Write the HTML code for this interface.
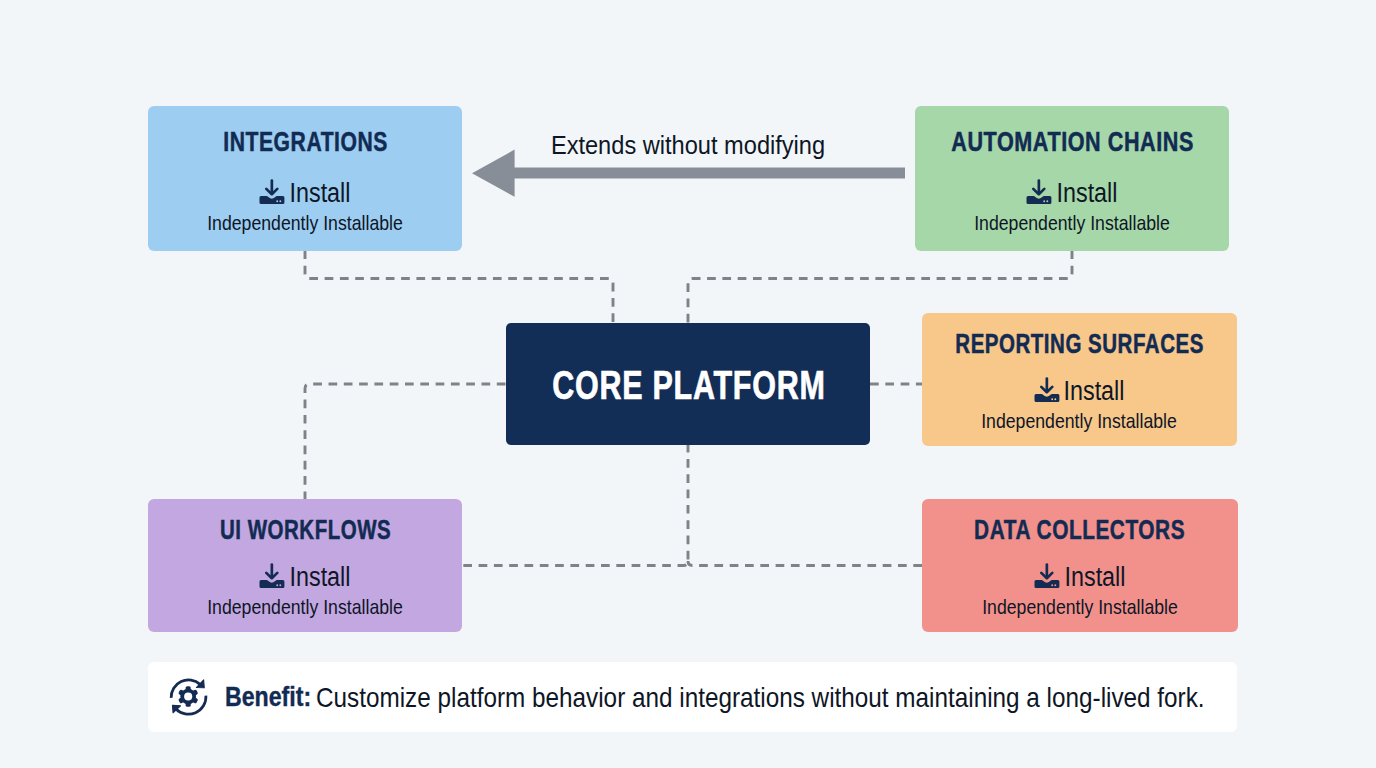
<!DOCTYPE html>
<html><head><meta charset="utf-8">
<style>
html,body{margin:0;padding:0;}
body{width:1376px;height:768px;overflow:hidden;background:#f2f6f9;position:relative;font-family:"Liberation Sans",sans-serif;}
.box{position:absolute;border-radius:6px;}
.t{position:absolute;width:800px;text-align:center;white-space:nowrap;line-height:1;transform-origin:50% 50%;}
svg{position:absolute;left:0;top:0;}
svg.ic{overflow:visible;}
</style></head>
<body>
<svg width="1376" height="768" viewBox="0 0 1376 768">
  <g fill="none" stroke="#7d838b" stroke-width="2.9" stroke-dasharray="8.7 6.6">
    <path d="M613 323 V283 Q613 278.5 608.5 278.5 H309.5 Q305 278.5 305 274 V251" stroke-dashoffset="-1"/>
    <path d="M688 323 V283 Q688 278.5 692.5 278.5 H1067.5 Q1072 278.5 1072 274 V251" stroke-dashoffset="-0.5"/>
    <path d="M506 384 H309.5 Q305 384 305 388.5 V499" stroke-dashoffset="-0.5"/>
    <path d="M870 384 H922"/>
    <path d="M688 445 V560" stroke-dashoffset="1.3"/>
    <path d="M462 565.5 H683.5 Q688 565.5 688 561" stroke-dashoffset="-1.3"/>
    <path d="M922 565.5 H692.5 Q688 565.5 688 561"/>
  </g>
  <path d="M905 167.4 H514.6 V149.6 L472 173.2 L514.6 196.8 V178.6 H905 Z" fill="#878e97"/>
</svg>
<div class="box" style="left:148px;top:106px;width:314px;height:145px;background:#9dcdf0"></div>
<div class="box" style="left:915px;top:106px;width:314px;height:145px;background:#a6d7a8"></div>
<div class="box" style="left:922px;top:313px;width:315px;height:133px;background:#f8c78a"></div>
<div class="box" style="left:148px;top:499px;width:314px;height:133px;background:#c3a7e1"></div>
<div class="box" style="left:922px;top:499px;width:316px;height:133px;background:#f2918b"></div>
<div class="box" style="left:506px;top:323px;width:364px;height:122px;background:#122d56;border-radius:5px"></div>
<div class="box" style="left:148px;top:662px;width:1089px;height:70px;background:#ffffff;border-radius:6px"></div>
<div class="t" style="left:-95.00px;top:129.04px;font-size:27px;font-weight:bold;color:#122b53;transform:scaleX(0.7822);-webkit-text-stroke:0.5px #122b53;letter-spacing:0.7px;padding-left:0.7px;">INTEGRATIONS</div>
<svg class="ic" style="left:254.80px;top:175.10px" width="35" height="33" viewBox="0 0 35 33">
<path d="M16.85 5.5 V17" stroke="#142c52" stroke-width="2.7" stroke-linecap="round" fill="none"/>
<path d="M11.3 13.9 L16.8 19.2 L22.3 13.9" stroke="#142c52" stroke-width="2.7" stroke-linecap="round" stroke-linejoin="round" fill="none"/>
<path d="M6 21 H11.6 C13.2 21 14.6 23.8 16.8 23.8 C19 23.8 20.4 21 22 21 H27.9 Q29.4 21 29.4 22.5 V27.4 Q29.4 28.9 27.9 28.9 H6 Q4.5 28.9 4.5 27.4 V22.5 Q4.5 21 6 21 Z" fill="#142c52"/>
<circle cx="22.2" cy="26.2" r="0.95" fill="#9dcdf0"/>
<circle cx="25.3" cy="26.2" r="0.95" fill="#9dcdf0"/>
</svg>
<div class="t" style="left:-79.75px;top:179.71px;font-size:26.8px;font-weight:normal;color:#0e1626;transform:scaleX(0.871);">Install</div>
<div class="t" style="left:-94.75px;top:211.62px;font-size:21px;font-weight:normal;color:#0e1626;transform:scaleX(0.842);">Independently Installable</div>
<div class="t" style="left:672.00px;top:129.04px;font-size:27px;font-weight:bold;color:#122b53;transform:scaleX(0.7998);-webkit-text-stroke:0.5px #122b53;letter-spacing:0.7px;padding-left:0.7px;">AUTOMATION CHAINS</div>
<svg class="ic" style="left:1021.80px;top:175.10px" width="35" height="33" viewBox="0 0 35 33">
<path d="M16.85 5.5 V17" stroke="#142c52" stroke-width="2.7" stroke-linecap="round" fill="none"/>
<path d="M11.3 13.9 L16.8 19.2 L22.3 13.9" stroke="#142c52" stroke-width="2.7" stroke-linecap="round" stroke-linejoin="round" fill="none"/>
<path d="M6 21 H11.6 C13.2 21 14.6 23.8 16.8 23.8 C19 23.8 20.4 21 22 21 H27.9 Q29.4 21 29.4 22.5 V27.4 Q29.4 28.9 27.9 28.9 H6 Q4.5 28.9 4.5 27.4 V22.5 Q4.5 21 6 21 Z" fill="#142c52"/>
<circle cx="22.2" cy="26.2" r="0.95" fill="#a6d7a8"/>
<circle cx="25.3" cy="26.2" r="0.95" fill="#a6d7a8"/>
</svg>
<div class="t" style="left:687.25px;top:179.71px;font-size:26.8px;font-weight:normal;color:#0e1626;transform:scaleX(0.871);">Install</div>
<div class="t" style="left:672.25px;top:211.62px;font-size:21px;font-weight:normal;color:#0e1626;transform:scaleX(0.842);">Independently Installable</div>
<div class="t" style="left:678.80px;top:330.94px;font-size:27px;font-weight:bold;color:#122b53;transform:scaleX(0.7586);-webkit-text-stroke:0.5px #122b53;letter-spacing:0.7px;padding-left:0.7px;">REPORTING SURFACES</div>
<svg class="ic" style="left:1029.90px;top:372.80px" width="35" height="33" viewBox="0 0 35 33">
<path d="M16.85 5.5 V17" stroke="#142c52" stroke-width="2.7" stroke-linecap="round" fill="none"/>
<path d="M11.3 13.9 L16.8 19.2 L22.3 13.9" stroke="#142c52" stroke-width="2.7" stroke-linecap="round" stroke-linejoin="round" fill="none"/>
<path d="M6 21 H11.6 C13.2 21 14.6 23.8 16.8 23.8 C19 23.8 20.4 21 22 21 H27.9 Q29.4 21 29.4 22.5 V27.4 Q29.4 28.9 27.9 28.9 H6 Q4.5 28.9 4.5 27.4 V22.5 Q4.5 21 6 21 Z" fill="#142c52"/>
<circle cx="22.2" cy="26.2" r="0.95" fill="#f8c78a"/>
<circle cx="25.3" cy="26.2" r="0.95" fill="#f8c78a"/>
</svg>
<div class="t" style="left:694.05px;top:377.61px;font-size:26.8px;font-weight:normal;color:#0e1626;transform:scaleX(0.871);">Install</div>
<div class="t" style="left:679.05px;top:409.52px;font-size:21px;font-weight:normal;color:#0e1626;transform:scaleX(0.842);">Independently Installable</div>
<div class="t" style="left:-95.00px;top:516.94px;font-size:27px;font-weight:bold;color:#122b53;transform:scaleX(0.7589);-webkit-text-stroke:0.5px #122b53;letter-spacing:0.7px;padding-left:0.7px;">UI WORKFLOWS</div>
<svg class="ic" style="left:254.80px;top:558.80px" width="35" height="33" viewBox="0 0 35 33">
<path d="M16.85 5.5 V17" stroke="#142c52" stroke-width="2.7" stroke-linecap="round" fill="none"/>
<path d="M11.3 13.9 L16.8 19.2 L22.3 13.9" stroke="#142c52" stroke-width="2.7" stroke-linecap="round" stroke-linejoin="round" fill="none"/>
<path d="M6 21 H11.6 C13.2 21 14.6 23.8 16.8 23.8 C19 23.8 20.4 21 22 21 H27.9 Q29.4 21 29.4 22.5 V27.4 Q29.4 28.9 27.9 28.9 H6 Q4.5 28.9 4.5 27.4 V22.5 Q4.5 21 6 21 Z" fill="#142c52"/>
<circle cx="22.2" cy="26.2" r="0.95" fill="#c3a7e1"/>
<circle cx="25.3" cy="26.2" r="0.95" fill="#c3a7e1"/>
</svg>
<div class="t" style="left:-79.75px;top:563.61px;font-size:26.8px;font-weight:normal;color:#0e1626;transform:scaleX(0.871);">Install</div>
<div class="t" style="left:-94.75px;top:595.52px;font-size:21px;font-weight:normal;color:#0e1626;transform:scaleX(0.842);">Independently Installable</div>
<div class="t" style="left:679.30px;top:516.94px;font-size:27px;font-weight:bold;color:#122b53;transform:scaleX(0.7715);-webkit-text-stroke:0.5px #122b53;letter-spacing:0.7px;padding-left:0.7px;">DATA COLLECTORS</div>
<svg class="ic" style="left:1030.40px;top:558.80px" width="35" height="33" viewBox="0 0 35 33">
<path d="M16.85 5.5 V17" stroke="#142c52" stroke-width="2.7" stroke-linecap="round" fill="none"/>
<path d="M11.3 13.9 L16.8 19.2 L22.3 13.9" stroke="#142c52" stroke-width="2.7" stroke-linecap="round" stroke-linejoin="round" fill="none"/>
<path d="M6 21 H11.6 C13.2 21 14.6 23.8 16.8 23.8 C19 23.8 20.4 21 22 21 H27.9 Q29.4 21 29.4 22.5 V27.4 Q29.4 28.9 27.9 28.9 H6 Q4.5 28.9 4.5 27.4 V22.5 Q4.5 21 6 21 Z" fill="#142c52"/>
<circle cx="22.2" cy="26.2" r="0.95" fill="#f2918b"/>
<circle cx="25.3" cy="26.2" r="0.95" fill="#f2918b"/>
</svg>
<div class="t" style="left:694.55px;top:563.61px;font-size:26.8px;font-weight:normal;color:#0e1626;transform:scaleX(0.871);">Install</div>
<div class="t" style="left:679.55px;top:595.52px;font-size:21px;font-weight:normal;color:#0e1626;transform:scaleX(0.842);">Independently Installable</div>
<div class="t" style="left:287.70px;top:364.64px;font-size:40px;font-weight:bold;color:#ffffff;transform:scaleX(0.762);-webkit-text-stroke:0.7px #ffffff;letter-spacing:1px;padding-left:1px;">CORE PLATFORM</div>
<div class="t" style="left:288.25px;top:133.06px;font-size:25.8px;font-weight:normal;color:#0e1626;transform:scaleX(0.915);">Extends without modifying</div>
<svg class="ic" style="left:165.6px;top:674.2px" width="44.8" height="44.8" viewBox="0 0 44 44">
<g fill="none" stroke="#142c52" stroke-width="2.7">
<path d="M5.1 23.5 A17 17 0 0 1 33.5 10.2"/>
<path d="M39.2 21.2 A17.2 17.2 0 0 1 9.8 34.4"/>
</g>
<path d="M37 5.7 L37.6 13.6 L29.8 13.3 Z" fill="#142c52" stroke="#142c52" stroke-width="1" stroke-linejoin="round"/>
<path d="M6.3 30.7 L14.3 31.2 L6.9 38.1 Z" fill="#142c52" stroke="#142c52" stroke-width="1" stroke-linejoin="round"/>
<g fill="#142c52" transform="translate(21.8 22.1)">
<circle r="7.7"/>
<rect x="-2.5" y="-10.1" width="5" height="20.2" rx="1.6"/>
<rect x="-2.5" y="-10.1" width="5" height="20.2" rx="1.6" transform="rotate(60)"/>
<rect x="-2.5" y="-10.1" width="5" height="20.2" rx="1.6" transform="rotate(-60)"/>
<circle r="4.0" fill="#ffffff"/>
</g>
</svg>
<div class="t" style="left:225.0px;top:684.41px;width:auto;text-align:left;font-size:26.8px;font-weight:bold;color:#122b53;transform-origin:0 50%;transform:scaleX(0.863);-webkit-text-stroke:0.4px #122b53">Benefit:</div>
<div class="t" style="left:316.4px;top:684.21px;width:auto;text-align:left;font-size:27.4px;color:#0e1626;transform-origin:0 50%;transform:scaleX(0.887)">Customize platform behavior and integrations without maintaining a long-lived fork.</div>
</body></html>
